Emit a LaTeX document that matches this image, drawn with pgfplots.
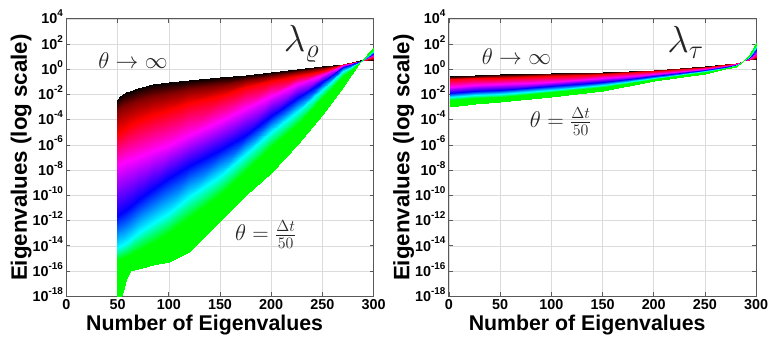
\RequirePackage{fix-cm}
\documentclass[border=0pt]{standalone}
\usepackage[no-math]{fontspec}
\setmainfont{Liberation Sans}
\usepackage{pgfplots}
\usepackage{pgfplotstable}
\pgfplotsset{compat=1.18}

\pgfplotsset{colormap={eig}{rgb255(0)=(0,255,0) rgb255(1)=(0,255,255) rgb255(2)=(0,0,255) rgb255(3)=(255,0,255) rgb255(4)=(255,0,0) rgb255(5)=(0,0,0)}}

% Left panel (lambda_rho): 8 curves x 17 points, m = colour index
\pgfplotstableread{
x y m
49 3.98e-3 5
52 7.08e-3 5
55 1.12e-2 5
58 1.45e-2 5
62 2.00e-2 5
70 3.55e-2 5
85 6.61e-2 5
100 1.00e-1 5
120 1.51e-1 5
150 2.51e-1 5
175 3.72e-1 5
200 6.31e-1 5
225 1.07 5
250 1.78 5
270 2.82 5
287 5.01 5
300 5.62 5
49 5.01e-4 4.5
52 7.94e-4 4.5
55 1.12e-3 4.5
58 1.41e-3 4.5
62 2.00e-3 4.5
70 3.55e-3 4.5
85 7.08e-3 4.5
100 1.26e-2 4.5
120 2.82e-2 4.5
150 5.62e-2 4.5
175 1.35e-1 4.5
200 3.16e-1 4.5
225 6.31e-1 4.5
250 1.26 4.5
270 2.69 4.5
287 4.79 4.5
300 7.08 4.5
49 7.94e-6 4
52 1.12e-5 4
55 1.58e-5 4
58 2.24e-5 4
62 3.55e-5 4
70 7.94e-5 4
85 2.51e-4 4
100 6.31e-4 4
120 2.00e-3 4
150 7.94e-3 4
175 3.98e-2 4
200 1.12e-1 4
225 3.16e-1 4
250 7.94e-1 4
270 2.51 4
287 4.57 4
300 8.91 4
49 2.51e-8 3
52 3.16e-8 3
55 3.98e-8 3
58 5.01e-8 3
62 6.31e-8 3
70 1.12e-7 3
85 3.16e-7 3
100 1.00e-6 3
120 6.31e-6 3
150 7.94e-5 3
175 7.94e-4 3
200 7.94e-3 3
225 7.08e-2 3
250 3.31e-1 3
270 2.00 3
287 4.47 3
300 1.26e1 3
49 2.51e-12 2
52 3.55e-12 2
55 5.01e-12 2
58 7.08e-12 2
62 1.26e-11 2
70 3.98e-11 2
85 3.16e-10 2
100 2.51e-9 2
120 2.00e-8 2
150 3.98e-7 2
175 6.31e-6 2
200 2.00e-4 2
225 5.01e-3 2
250 1.00e-1 2
270 1.58 2
287 4.27 2
300 2.00e1 2
49 6.31e-15 1
52 8.91e-15 1
55 1.26e-14 1
58 1.78e-14 1
62 3.16e-14 1
70 1.00e-13 1
85 6.31e-13 1
100 3.98e-12 1
120 7.94e-11 1
150 3.16e-9 1
175 1.78e-7 1
200 1.00e-5 1
225 4.47e-4 1
250 2.24e-2 1
270 7.94e-1 1
287 3.98 1
300 2.82e1 1
49 7.08e-16 0
52 8.91e-16 0
55 1.12e-15 0
58 1.41e-15 0
62 2.00e-15 0
70 3.98e-15 0
85 1.58e-14 0
100 1.00e-13 0
120 1.58e-12 0
150 1.00e-10 0
175 8.91e-9 0
200 6.31e-7 0
225 3.98e-5 0
250 5.01e-3 0
270 3.16e-1 0
287 3.80 0
300 3.98e1 0
49 5.01e-19 0
52 5.01e-19 0
55 2.51e-18 0
58 2.51e-17 0
62 1.00e-16 0
70 1.58e-16 0
85 2.82e-16 0
100 5.01e-16 0
120 3.55e-15 0
150 1.00e-12 0
175 1.00e-10 0
200 6.31e-9 0
225 1.00e-6 0
250 2.51e-4 0
270 3.98e-2 0
287 3.63 0
300 5.62e1 0
}\leftdata

% Right panel (lambda_tau): 8 curves x 12 points
\pgfplotstableread{
x y m
1 3.02e-1 5
25 3.55e-1 5
50 3.98e-1 5
100 5.01e-1 5
150 6.46e-1 5
200 9.55e-1 5
250 1.82 5
270 2.63 5
280 3.31 5
287 4.57 5
293 5.01 5
300 6.31 5
1 2.14e-1 4.5
25 2.57e-1 4.5
50 2.95e-1 4.5
100 3.89e-1 4.5
150 5.25e-1 4.5
200 8.32e-1 4.5
250 1.66 4.5
270 2.45 4.5
280 3.16 4.5
287 4.57 4.5
293 5.25 4.5
300 7.94 4.5
1 1.55e-1 4
25 1.86e-1 4
50 2.19e-1 4
100 2.95e-1 4
150 4.27e-1 4
200 7.41e-1 4
250 1.55 4
270 2.34 4
280 3.02 4
287 4.47 4
293 5.62 4
300 1.00e1 4
1 4.27e-2 3
25 5.50e-2 3
50 6.76e-2 3
100 1.07e-1 3
150 1.91e-1 3
200 4.47e-1 3
250 1.12 3
270 1.86 3
280 2.57 3
287 4.47 3
293 6.76 3
300 2.00e1 3
1 1.38e-2 2
25 1.91e-2 2
50 2.45e-2 2
100 4.47e-2 2
150 9.55e-2 2
200 2.95e-1 2
250 8.32e-1 2
270 1.55 2
280 2.19 2
287 4.37 2
293 8.32 2
300 3.55e1 2
1 6.03e-3 1
25 8.71e-3 1
50 1.15e-2 1
100 2.34e-2 1
150 5.62e-2 1
200 2.14e-1 1
250 6.76e-1 1
270 1.35 1
280 2.00 1
287 4.37 1
293 1.00e1 1
300 5.62e1 1
1 3.47e-3 0
25 5.13e-3 0
50 6.92e-3 0
100 1.51e-2 0
150 3.98e-2 0
200 1.74e-1 0
250 5.89e-1 0
270 1.20 0
280 1.82 0
287 4.27 0
293 1.12e1 0
300 7.94e1 0
1 1.12e-3 0
25 1.78e-3 0
50 2.51e-3 0
100 6.31e-3 0
150 2.00e-2 0
200 1.12e-1 0
250 4.47e-1 0
270 1.00 0
280 1.58 0
287 4.27 0
293 1.41e1 0
300 1.12e2 0
}\rightdata

\newcommand{\tlab}[1]{\textbf{10}\raisebox{0.5em}{\fontsize{10}{10}\selectfont\bfseries #1}}

\begin{document}
\begin{tikzpicture}
\begin{axis}[
  width=310pt, height=280pt, scale only axis,
  xmin=0, xmax=300, ymode=log, ymin=1e-18, ymax=1e4,
  xtick={0,50,100,150,200,250,300},
  xticklabels={0,50,100,150,200,250,300},
  ytick={1e-18,1e-16,1e-14,1e-12,1e-10,1e-8,1e-6,1e-4,1e-2,1,1e2,1e4},
  yticklabels={\tlab{-18},\tlab{-16},\tlab{-14},\tlab{-12},\tlab{-10},\tlab{-8},\tlab{-6},\tlab{-4},\tlab{-2},\tlab{0},\tlab{2},\tlab{4}},
  minor tick num=0,
  tick align=inside, major tick length=4pt,
  grid=major, grid style={gray!28, line width=0.5pt},
  axis line style={black!65, line width=1pt},
  tick style={black!65, line width=0.8pt},
  ticklabel style={font=\fontsize{14.5}{15}\selectfont\bfseries},
  yticklabel style={anchor=base east, yshift=-5.2pt},
  xlabel={Number of Eigenvalues},
  ylabel={Eigenvalues (log scale)},
  xlabel style={font=\fontsize{21.5}{22}\selectfont\bfseries, at={(axis description cs:0.45,0)}, anchor=base, yshift=-34pt},
  ylabel style={font=\fontsize{22.5}{23}\selectfont\bfseries, at={(axis description cs:-0.129,0.5)}, anchor=base},
  colormap name=eig, point meta min=0, point meta max=5,
]
\addplot[surf, shader=interp, point meta=explicit, mesh/rows=8, mesh/cols=17] table[x=x, y=y, meta=m] {\leftdata};
\node[font=\fontsize{23}{23}\selectfont, text=black!85] at (axis cs:65,5.0) {$\theta \rightarrow \infty$};
\node[font=\fontsize{38}{38}\selectfont, text=black!85, anchor=base west] at (axis cs:209,25.7) {$\lambda_{\varrho}$};
\node[font=\fontsize{23}{23}\selectfont, text=black!85] at (axis cs:194.5,7.9e-14) {$\theta = \frac{\Delta t}{50}$};
\end{axis}
\begin{axis}[
  at={(386pt,0)},
  width=310pt, height=280pt, scale only axis,
  xmin=0, xmax=300, ymode=log, ymin=1e-18, ymax=1e4,
  xtick={0,50,100,150,200,250,300},
  xticklabels={0,50,100,150,200,250,300},
  ytick={1e-18,1e-16,1e-14,1e-12,1e-10,1e-8,1e-6,1e-4,1e-2,1,1e2,1e4},
  yticklabels={\tlab{-18},\tlab{-16},\tlab{-14},\tlab{-12},\tlab{-10},\tlab{-8},\tlab{-6},\tlab{-4},\tlab{-2},\tlab{0},\tlab{2},\tlab{4}},
  minor tick num=0,
  tick align=inside, major tick length=4pt,
  grid=major, grid style={gray!28, line width=0.5pt},
  axis line style={black!65, line width=1pt},
  tick style={black!65, line width=0.8pt},
  ticklabel style={font=\fontsize{14.5}{15}\selectfont\bfseries},
  yticklabel style={anchor=base east, yshift=-5.2pt},
  xlabel={Number of Eigenvalues},
  ylabel={Eigenvalues (log scale)},
  xlabel style={font=\fontsize{21.5}{22}\selectfont\bfseries, at={(axis description cs:0.45,0)}, anchor=base, yshift=-34pt},
  ylabel style={font=\fontsize{22.5}{23}\selectfont\bfseries, at={(axis description cs:-0.129,0.5)}, anchor=base},
  colormap name=eig, point meta min=0, point meta max=5,
]
\addplot[surf, shader=interp, point meta=explicit, mesh/rows=8, mesh/cols=12] table[x=x, y=y, meta=m] {\rightdata};
\node[font=\fontsize{23}{23}\selectfont, text=black!85] at (axis cs:66,11) {$\theta \rightarrow \infty$};
\node[font=\fontsize{38}{38}\selectfont, text=black!85, anchor=base west] at (axis cs:210,21.4) {$\lambda_{\tau}$};
\node[font=\fontsize{23}{23}\selectfont, text=black!85] at (axis cs:109,6.8e-5) {$\theta = \frac{\Delta t}{50}$};
\end{axis}
\pgfresetboundingbox
\path[use as bounding box] (-67pt,-43pt) rectangle (711pt,299pt);
\end{tikzpicture}
\end{document}
